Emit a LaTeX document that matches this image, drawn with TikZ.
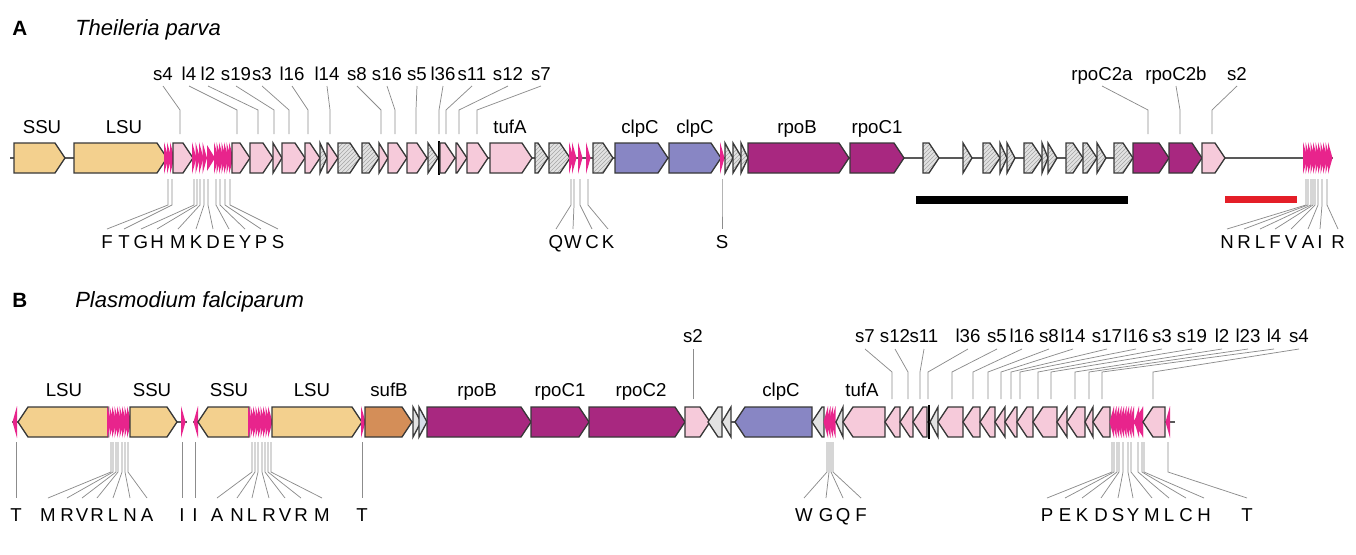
\documentclass[tikz,border=0pt]{standalone}
\usepackage{fontspec}
\setmainfont{Liberation Sans}
\usetikzlibrary{patterns}
\definecolor{rrna}{RGB}{243,208,142}
\definecolor{trna}{RGB}{232,36,140}
\definecolor{rprot}{RGB}{246,202,218}
\definecolor{clpc}{RGB}{136,134,196}
\definecolor{rpo}{RGB}{168,40,128}
\definecolor{sufb}{RGB}{212,142,88}
\definecolor{gry}{RGB}{226,226,226}
\definecolor{gryblue}{RGB}{214,222,232}
\definecolor{barred}{RGB}{228,30,40}
\def\ym{158}
\newcommand\GR[3]{\pgfmathsetmacro\hd{min(10,#2-#1)}%
  \filldraw[gene,fill=#3] (#1,\ym-15) -- ({#2-\hd},\ym-15) -- (#2,\ym) -- ({#2-\hd},\ym+15) -- (#1,\ym+15) -- cycle;}
\newcommand\GL[3]{\pgfmathsetmacro\hd{min(10,#2-#1)}%
  \filldraw[gene,fill=#3] (#2,\ym-15) -- ({#1+\hd},\ym-15) -- (#1,\ym) -- ({#1+\hd},\ym+15) -- (#2,\ym+15) -- cycle;}
\newcommand\GRH[2]{\pgfmathsetmacro\hd{min(10,#2-#1)}%
  \draw[gene,preaction={fill=gry},pattern=north east lines,pattern color=black!35] (#1,\ym-15) -- ({#2-\hd},\ym-15) -- (#2,\ym) -- ({#2-\hd},\ym+15) -- (#1,\ym+15) -- cycle;}
\newcommand\TR[1]{\fill[trna] ({#1-2},\ym-16) -- ({#1+2.5},\ym) -- ({#1-2},\ym+16) -- cycle;}
\newcommand\TL[1]{\fill[trna] ({#1+2},\ym-16) -- ({#1-2.5},\ym) -- ({#1+2},\ym+16) -- cycle;}
\newcommand\TA[3]{\node[lbl] at (#1,80) {#2}; \draw[lab] (#1,86) -- (#3,110) -- (#3,134);}
\newcommand\BA[3]{\draw[lab] (#3,179) -- (#3,205) -- (#1,229); \node[lbl] at (#1,248.5) {#2};}
\newcommand\TB[3]{\node[lbl] at (#1,342.5) {#2}; \draw[lab] (#1,349) -- (#3,372) -- (#3,399);}
\newcommand\BB[3]{\draw[lab] (#3,442) -- (#3,472) -- (#1,498); \node[lbl] at (#1,521.5) {#2};}
\begin{document}
\begin{tikzpicture}[x=0.75pt,y=-0.75pt,
  lbl/.style={font=\fontsize{14}{16}\selectfont, anchor=base, inner sep=0pt},
  ttl/.style={font=\fontsize{16.5}{19}\selectfont\itshape, anchor=base west, inner sep=0pt},
  hd/.style={font=\fontsize{15.5}{18}\selectfont\bfseries, anchor=base west, inner sep=0pt},
  lab/.style={draw=black!45, line width=0.55pt},
  gene/.style={draw=black!78, line width=1pt, line join=miter},
  back/.style={draw=black!65, line width=0.9pt},
  trna/.style={fill=trna}]
\useasboundingbox (0,0) rectangle (1356,554);
\fill[white] (0,0) rectangle (1356,554);
% ---------------- Panel A ----------------
\node[hd] (titA) at (12,35) {A};
\node[ttl] (nameA) at (75,35) {Theileria parva};
\def\ym{158}
\draw[back] (10,\ym) -- (1333,\ym);
\GR{14}{65}{rrna}
\GR{74}{167}{rrna}
\foreach \x in {166,169,172} {\TR{\x}}
\GR{173}{193}{rprot}
\foreach \x in {194,197.5,201,204.5} {\TR{\x}}
\fill[trna] (207,\ym-13) -- (215,\ym) -- (207,\ym+13) -- cycle;
\foreach \x in {216,218.5,221,223.5,226,228.5,231} {\TR{\x}}
\GR{232}{250}{rprot}
\GR{250}{273}{rprot}
\GR{273}{282}{rprot}
\GR{282}{305}{rprot}
\GR{305}{320}{rprot}
\GRH{320}{327}
\GR{327}{338}{rprot}
\GRH{338}{360}
\GRH{362}{379}
\GR{379}{388}{rprot}
\GR{388}{407}{rprot}
\GR{407}{427}{rprot}
\GRH{428}{438}
\draw[line width=1pt] (439,\ym-17) -- (439,\ym+17);
\GR{440}{455}{rprot}
\GR{456}{467}{rprot}
\GR{467}{488}{rprot}
\GR{490}{532}{rprot}
\GRH{535}{548}
\GRH{549}{570}
\foreach \x in {571,574,580,588} {\TR{\x}}
\GRH{593}{613}
\GR{615}{668}{clpc}
\GR{669}{721}{clpc}
\TR{722}
\GRH{725}{733}
\GRH{733}{742}
\GRH{741}{748}
\GR{748}{849}{rpo}
\GR{850}{904}{rpo}
\GRH{923}{939}
\GRH{963}{972}
\GRH{983}{1000}
\GRH{1000}{1007}
\GRH{1007}{1015}
\GRH{1024}{1042}
\GRH{1042}{1048}
\GRH{1048}{1057}
\GRH{1066}{1083}
\GRH{1083}{1097}
\GRH{1097}{1106}
\GRH{1114}{1133}
\GR{1133}{1169}{rpo}
\GR{1169}{1202}{rpo}
\GR{1202}{1225}{rprot}
\foreach \x in {1305,1307.5,1310,1312.5,1315,1317.5,1320,1322.5,1325,1327.5,1330} {\TR{\x}}
% gene labels A
\node[lbl] (aSSU) at (42,133) {SSU};
\node[lbl] (aLSU) at (124,133) {LSU};
\node[lbl] (atuf) at (510,133) {tufA};
\node[lbl] (aclp1) at (640,133) {clpC};
\node[lbl] (aclp2) at (695,133) {clpC};
\node[lbl] (arpoB) at (797,133) {rpoB};
\node[lbl] (arpoC) at (877,133) {rpoC1};
% top labels A
\TA{163}{s4}{180}
\TA{189}{l4}{237}
\TA{208}{l2}{258}
\TA{236}{s19}{274}
\TA{262}{s3}{289}
\TA{292}{l16}{308}
\TA{327}{l14}{330}
\TA{357}{s8}{381}
\TA{387}{s16}{395}
\TA{417}{s5}{416}
\TA{443}{l36}{439}
\TA{472}{s11}{446}
\TA{508}{s12}{459}
\TA{541}{s7}{477}
\TA{1102}{rpoC2a}{1148}
\TA{1176}{rpoC2b}{1180}
\TA{1237}{s2}{1212}
% bottom labels A
\BA{107}{F}{168}
\BA{124}{T}{172}
\BA{141}{G}{194}
\BA{157}{H}{197}
\BA{178}{M}{200}
\BA{196}{K}{204}
\BA{213}{D}{208}
\BA{229}{E}{216}
\BA{245}{Y}{220}
\BA{261}{P}{225}
\BA{278}{S}{230}
\BA{556}{Q}{571}
\BA{573}{W}{574}
\BA{592}{C}{580}
\BA{608}{K}{588}
\BA{722}{S}{722}
\BA{1227}{N}{1306}
\BA{1244}{R}{1308}
\BA{1260}{L}{1311}
\BA{1275}{F}{1313}
\BA{1291}{V}{1315}
\BA{1308}{A}{1318}
\BA{1320}{I}{1322}
\BA{1338}{R}{1327}
% scale bars
\fill[black] (916,196) rectangle (1128,204);
\fill[barred] (1225,196) rectangle (1297,203);
% ---------------- Panel B ----------------
\node[hd] (titB) at (12,307) {B};
\node[ttl] (nameB) at (75,307) {Plasmodium falciparum};
\def\ym{422}
\draw[back] (12,\ym) -- (187,\ym);
\draw[back] (193,\ym) -- (1175,\ym);
\TL{15}
\GL{18}{108}{rrna}
\foreach \x in {109,111.5,114,116.5,119,121.5,124,126.5,129} {\TR{\x}}
\GR{130}{177}{rrna}
\TR{183}
\TL{196}
\GL{198}{249}{rrna}
\foreach \x in {250,252.5,255,257.5,260,262.5,265,267.5,270} {\TR{\x}}
\GR{272}{362}{rrna}
\TR{363}
\GR{365}{412}{sufb}
\GR{413}{421}{gry}
\GR{419}{427}{gryblue}
\GR{427}{531}{rpo}
\GR{531}{589}{rpo}
\GR{589}{685}{rpo}
\GR{685}{710}{rprot}
\GL{708}{722}{gry}
\GL{722}{731}{gry}
\GL{735}{812}{clpc}
\GL{812}{824}{gry}
\foreach \x in {826,828.5,831,833.5} {\TL{\x}}
\GL{836}{843}{gry}
\GL{843}{885}{rprot}
\GL{885}{900}{rprot}
\GL{900}{913}{rprot}
\GL{913}{927}{rprot}
\draw[line width=1pt] (929,\ym-17) -- (929,\ym+17);
\GL{930}{938}{gry}
\GL{938}{963}{rprot}
\GL{963}{980}{rprot}
\GL{980}{995}{rprot}
\GL{995}{1005}{rprot}
\GL{1005}{1017}{rprot}
\GL{1017}{1033}{rprot}
\GL{1033}{1057}{rprot}
\GL{1057}{1067}{rprot}
\GL{1067}{1085}{rprot}
\GL{1085}{1093}{rprot}
\GL{1093}{1110}{rprot}
\foreach \x in {1112,1114.5,1117,1119.5,1122,1124.5,1127,1129.5,1132,1137,1141} {\TL{\x}}
\fill[trna] (1143,\ym-15) -- (1133,\ym) -- (1143,\ym+15) -- cycle;
\GL{1143}{1165}{rprot}
\TL{1168}
% gene labels B
\node[lbl] (bLSU1) at (64,396.5) {LSU};
\node[lbl] (bSSU1) at (152,396.5) {SSU};
\node[lbl] (bSSU2) at (229,396.5) {SSU};
\node[lbl] (bLSU2) at (312,396.5) {LSU};
\node[lbl] (bsuf) at (389,396.5) {sufB};
\node[lbl] (brpoB) at (477,396.5) {rpoB};
\node[lbl] (brpoC1) at (560,396.5) {rpoC1};
\node[lbl] (brpoC2) at (641,396.5) {rpoC2};
\node[lbl] (bclp) at (781,396.5) {clpC};
\node[lbl] (btuf) at (862,396.5) {tufA};
% top labels B
\node[lbl] (bs2) at (693,342.5) {s2};
\draw[lab] (693,349) -- (693,399);
\TB{865}{s7}{892}
\TB{895}{s12}{908}
\TB{924}{s11}{920}
\TB{968}{l36}{928}
\TB{997}{s5}{952}
\TB{1022}{l16}{973}
\TB{1049}{s8}{988}
\TB{1073}{l14}{1001}
\TB{1107}{s17}{1011}
\TB{1136}{l16}{1020}
\TB{1162}{s3}{1038}
\TB{1192}{s19}{1051}
\TB{1222}{l2}{1075}
\TB{1248}{l23}{1089}
\TB{1274}{l4}{1102}
\TB{1299}{s4}{1153}
% bottom labels B
\draw[lab] (16,442) -- (16,498); \node[lbl] at (16,521.5) {T};
\BB{48}{M}{111}
\BB{67}{R}{113}
\BB{82}{V}{116}
\BB{97}{R}{118}
\BB{113}{L}{122}
\BB{130}{N}{125}
\BB{147}{A}{128}
\draw[lab] (182,442) -- (182,498); \node[lbl] at (182,521.5) {I};
\draw[lab] (195,442) -- (195,498); \node[lbl] at (195,521.5) {I};
\BB{217}{A}{252}
\BB{237}{N}{255}
\BB{252}{L}{258}
\BB{269}{R}{262}
\BB{285}{V}{265}
\BB{301}{R}{268}
\BB{322}{M}{271}
\draw[lab] (362,442) -- (362,498); \node[lbl] at (362,521.5) {T};
\BB{804}{W}{827}
\BB{826}{G}{829}
\BB{843}{Q}{831}
\BB{861}{F}{833}
\BB{1047}{P}{1112}
\BB{1065}{E}{1114}
\BB{1082}{K}{1117}
\BB{1101}{D}{1119}
\BB{1118}{S}{1123}
\BB{1133}{Y}{1128}
\BB{1152}{M}{1131}
\BB{1169}{L}{1138}
\BB{1186}{C}{1142}
\BB{1204}{H}{1144}
\BB{1247}{T}{1168}
\end{tikzpicture}
\end{document}
